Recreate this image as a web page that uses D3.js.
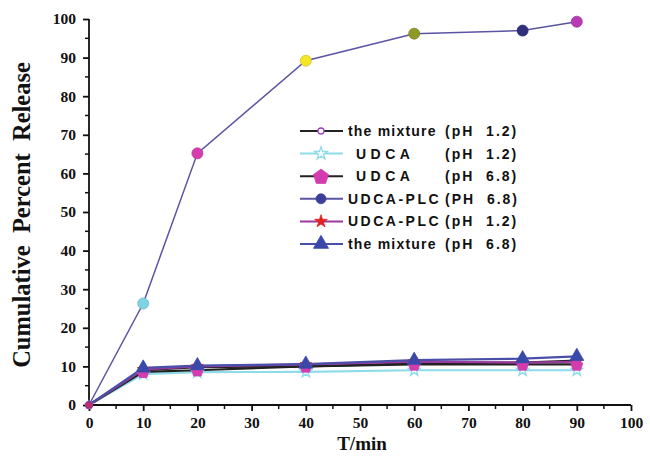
<!DOCTYPE html>
<html><head><meta charset="utf-8">
<script src="https://cdn.jsdelivr.net/npm/d3@7"></script>
<style>body{margin:0;background:#fff}svg{display:block}</style>
</head><body>
<svg id="c" width="650" height="458"></svg>
<script>
const times = [0, 10, 20, 40, 60, 80, 90];
const mixture12 = [0, 9.0, 9.8, 10.0, 10.8, 11.0, 11.5];
const udca12 = [0, 8.0, 8.5, 8.6, 9.0, 9.0, 9.0];
const udca68 = [0, 8.6, 9.0, 10.0, 10.5, 10.5, 10.5];
const plc68 = [0, 26.3, 65.2, 89.2, 96.2, 97.0, 99.3];
const plc12 = [0, 9.2, 10.0, 10.5, 11.2, 11.0, 11.2];
const mixture68 = [0, 9.6, 10.2, 10.6, 11.6, 12.0, 12.6];
const plcPointColors = ["#c03070", "#7fd3e6", "#d63cad", "#f4e526", "#8f9a26", "#2f2f7d", "#b93bb4"];
const xTicks = [0,10,20,30,40,50,60,70,80,90,100];
const yTicks = [0,10,20,30,40,50,60,70,80,90,100];
const legendNames = ["the mixture", "UDCA", "UDCA", "UDCA-PLC", "UDCA-PLC", "the mixture"];
const legendPH = ["(pH 1.2)", "(pH 1.2)", "(pH 6.8)", "(PH 6.8)", "(pH 1.2)", "(pH 6.8)"];

const svg = d3.select("#c");
const x = d3.scaleLinear().domain([0,100]).range([89,631]);
const y = d3.scaleLinear().domain([0,100]).range([405,19]);

const serif = "'Liberation Serif','Times New Roman',serif";
const sans = "'Liberation Sans',Arial,sans-serif";
const xAxis = d3.axisBottom(x).tickValues(xTicks).tickSize(6).tickPadding(6).tickFormat(d3.format("d"));
const gx = svg.append("g").attr("transform","translate(0,405)").call(xAxis);
gx.select(".domain").attr("stroke","#111").attr("stroke-width",1.8).attr("d","M89,0H631");
gx.selectAll(".tick line").attr("stroke","#111").attr("stroke-width",1.8);
gx.selectAll("text").attr("font-family",serif).attr("font-weight","bold").attr("font-size",15.5).attr("fill","#111");
const xMinor = d3.range(5,100,10);
svg.append("g").selectAll("line").data(xMinor).join("line")
  .attr("x1",d=>x(d)).attr("x2",d=>x(d)).attr("y1",405).attr("y2",409)
  .attr("stroke","#111").attr("stroke-width",1.5);

const yAxis = d3.axisLeft(y).tickValues(yTicks).tickSize(6).tickPadding(7).tickFormat(d3.format("d"));
const gy = svg.append("g").attr("transform","translate(89,0)").call(yAxis);
gy.select(".domain").attr("stroke","#111").attr("stroke-width",1.8).attr("d","M0,405V19");
gy.selectAll(".tick line").attr("stroke","#111").attr("stroke-width",1.8);
gy.selectAll("text").attr("font-family",serif).attr("font-weight","bold").attr("font-size",15.5).attr("fill","#111");
const yMinor = d3.range(5,100,10);
svg.append("g").selectAll("line").data(yMinor).join("line")
  .attr("x1",85).attr("x2",89).attr("y1",d=>y(d)).attr("y2",d=>y(d))
  .attr("stroke","#111").attr("stroke-width",1.5);

svg.append("text").attr("x",362).attr("y",450).attr("text-anchor","middle")
  .attr("font-family",serif).attr("font-weight","bold").attr("font-size",19).attr("fill","#111").text("T/min");
svg.append("text").attr("transform","translate(30,215) rotate(-90)").attr("text-anchor","middle")
  .attr("font-family",serif).attr("font-weight","bold").attr("font-size",24.5).attr("fill","#111")
  .style("white-space","pre").text("Cumulative  Percent  Release");

const series = [
  {vals: mixture12, line:"#222", marker:"circleOpen", mcol:"#9a40c0"},
  {vals: udca12, line:"#8fdbea", marker:"starOpen", mcol:"#8fdbea"},
  {vals: udca68, line:"#222", marker:"pentagon", mcol:"#d23cae"},
  {vals: plc68, line:"#5b54a3", marker:"circle", mcol:"#3b3f9a"},
  {vals: plc12, line:"#9a3aa0", marker:"star", mcol:"#e02424"},
  {vals: mixture68, line:"#4a4fa8", marker:"triangle", mcol:"#3a48aa"}
];

const line = d3.line().x((d,i)=>x(times[i])).y(d=>y(d));

function markerPath(type, s) {
  switch(type){
    case "triangle": return d3.symbol(d3.symbolTriangle, s*s*0.433)();
    case "star": case "starOpen": return d3.symbol(d3.symbolStar, s*s*0.3)();
    case "pentagon": {
      const r = s/1.9;
      const pts = d3.range(5).map(k=>{const a=-Math.PI/2+k*2*Math.PI/5;return [Math.cos(a)*r,Math.sin(a)*r+r*0.1];});
      return "M"+pts.join("L")+"Z";
    }
    default: return d3.symbol(d3.symbolCircle, s*s*0.785)();
  }
}
function drawMarker(g, type, col, cx, cy, s){
  const open = type.endsWith("Open");
  g.append("path").attr("d", markerPath(type,s)).attr("transform",`translate(${cx},${cy})`)
    .attr("fill", open ? "#fff" : col).attr("stroke", col).attr("stroke-width", open?1.3:0.8);
}

const plot = svg.append("g");
series.forEach(sr=>{
  plot.append("path").datum(sr.vals).attr("d",line).attr("fill","none")
    .attr("stroke",sr.line).attr("stroke-width",sr.vals===plc68?1.5:2.2);
});
const plotSize = {triangle:14, pentagon:12, star:12, starOpen:12, circleOpen:6};
const drawOrder = [1,0,4,2,5];
drawOrder.forEach(si=>{
  const sr = series[si];
  sr.vals.forEach((v,i)=>{
    const s = i===0 ? 7 : plotSize[sr.marker];
    drawMarker(plot, sr.marker, sr.mcol, x(times[i]), y(v), s);
  });
});
plc68.forEach((v,i)=>{
  plot.append("circle").attr("cx",x(times[i])).attr("cy",y(v)).attr("r",i===0?3:5.5)
    .attr("fill",plcPointColors[i]).attr("stroke",d3.color(plcPointColors[i]).darker(0.4)).attr("stroke-width",0.8);
});

const legSize = {circleOpen:6, starOpen:13, pentagon:15, circle:10, star:13, triangle:15};
const lg = svg.append("g");
legendNames.forEach((nm,i)=>{
  const sr = series[i];
  const ly = 131 + i*22.6;
  lg.append("line").attr("x1",300).attr("x2",343).attr("y1",ly).attr("y2",ly).attr("stroke",sr.line).attr("stroke-width",2);
  drawMarker(lg, sr.marker, sr.mcol, 321, ly, legSize[sr.marker]);
  const isU = nm.startsWith("UDCA");
  lg.append("text").attr("x", nm==="UDCA"?356:348).attr("y",ly+5).attr("font-family",sans)
    .attr("font-weight","bold").attr("font-size",14).attr("letter-spacing",isU?(nm==="UDCA"?4.5:2.5):1.2)
    .attr("fill","#111").text(nm);
  lg.append("text").attr("x",445).attr("y",ly+5).attr("font-family",sans)
    .attr("font-weight","bold").attr("font-size",14).attr("letter-spacing",2.0)
    .attr("fill","#111").style("white-space","pre").text(legendPH[i].replace(" ","  "));
});
</script>
</body></html>
